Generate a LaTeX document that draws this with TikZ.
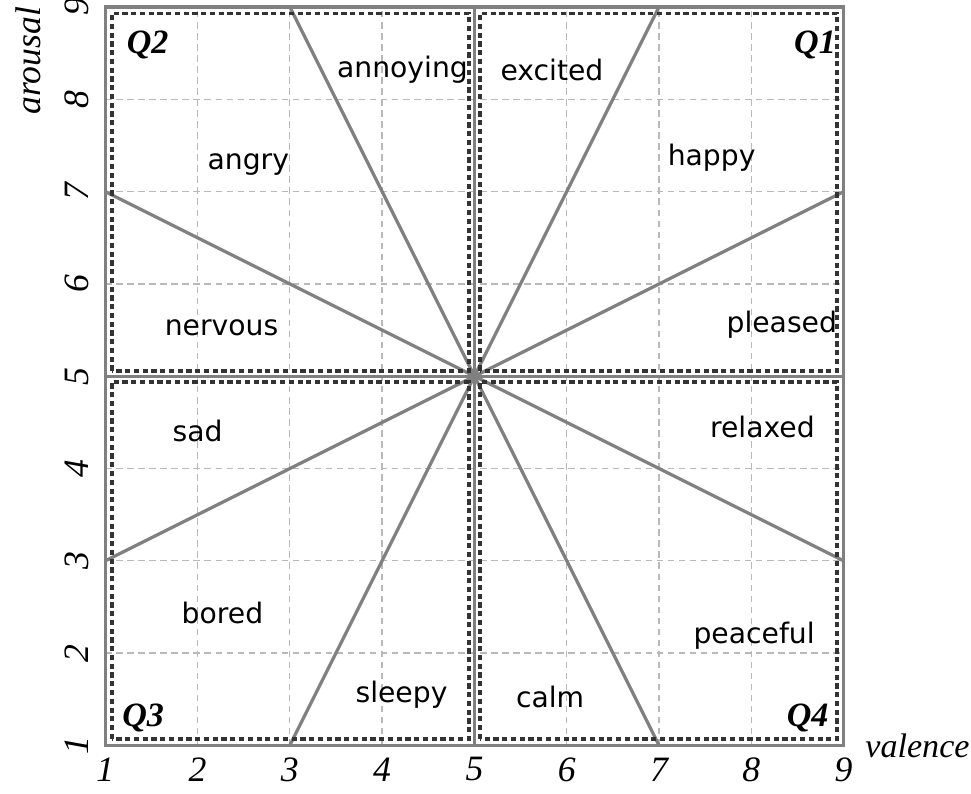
\documentclass[tikz,border=0pt]{standalone}
\usepackage{fontspec}
\setmainfont{Liberation Serif}
\setsansfont{DejaVu Sans}
\usepackage{tikz}
\usetikzlibrary{calc,positioning}

\tikzset{
	emo/.style={font=\sffamily\fontsize{8.7}{10}\selectfont, inner sep=1pt},
	quad/.style={font=\bfseries\itshape\fontsize{10.5}{12}\selectfont, inner sep=1pt},
	tick/.style={font=\itshape\fontsize{11}{13}\selectfont, inner sep=1pt},
	axis/.style={draw=gray, line width=1pt},
	qbox/.style={draw=black!80, line width=1.2pt, dash pattern=on 1.6pt off 1.1pt},
}

\begin{document}
\begin{tikzpicture}
		\useasboundingbox (-0.14,0.48) rectangle (10.38,9.076);
		\draw[gray!55, dash pattern=on 2pt off 1.4pt, line width=0.4pt] (1,1) grid (9,9);
		\coordinate (c) at (5,5);
		
		\draw[axis] (1,1) rectangle (9,9);
		\draw[axis] (c) -- (5,9) (c) -- (5,1) (c) -- (1,5) (c) -- (9,5);
		\draw[axis] (c) -- (3,9) (c) -- (7,9) (c) -- (3,1) (c) -- (7,1);
		\draw[axis] (c) -- (1,7) (c) -- (9,7) (c) -- (1,3) (c) -- (9,3);
		
		\draw[qbox] (1.07,5.06) rectangle (4.94,8.93);
		\draw[qbox] (5.06,5.06) rectangle (8.93,8.93);
		\draw[qbox] (1.07,1.07) rectangle (4.94,4.94);
		\draw[qbox] (5.06,1.07) rectangle (8.93,4.94);
		
		\node[quad] (q1) at (8.69,8.59) {Q1};
		\node[quad] (q2) at (1.46,8.59) {Q2};
		\node[quad] (q3) at (1.41,1.30) {Q3};
		\node[quad] (q4) at (8.61,1.30) {Q4};
		
		\node[emo] (annoying) at (4.22,8.32) {annoying};
		\node[emo] (excited) at (5.84,8.32) {excited};
		\node[emo] (angry) at (2.55,7.29) {angry};
		\node[emo] (happy) at (7.57,7.37) {happy};
		\node[emo] (nervous) at (2.26,5.53) {nervous};
		\node[emo] (pleased) at (8.33,5.56) {pleased};
		\node[emo] (sad) at (2.00,4.41) {sad};
		\node[emo] (relaxed) at (8.12,4.45) {relaxed};
		\node[emo] (bored) at (2.27,2.43) {bored};
		\node[emo] (peaceful) at (8.03,2.19) {peaceful};
		\node[emo] (sleepy) at (4.21,1.55) {sleepy};
		\node[emo] (calm) at (5.82,1.53) {calm};
		
		\foreach \i in {1,...,9} {
			\node[tick] (x\i) at (\i,0.74) {\i};
			\node[tick, rotate=90] (y\i) at (0.69,\i) {\i};
		}
		\node[tick, font=\itshape\fontsize{10.5}{12}\selectfont] (val) at (9.8,1.0) {valence};
		\node[tick, rotate=90] (aro) at (0.17,8.42) {arousal};
	\end{tikzpicture}
\end{document}
